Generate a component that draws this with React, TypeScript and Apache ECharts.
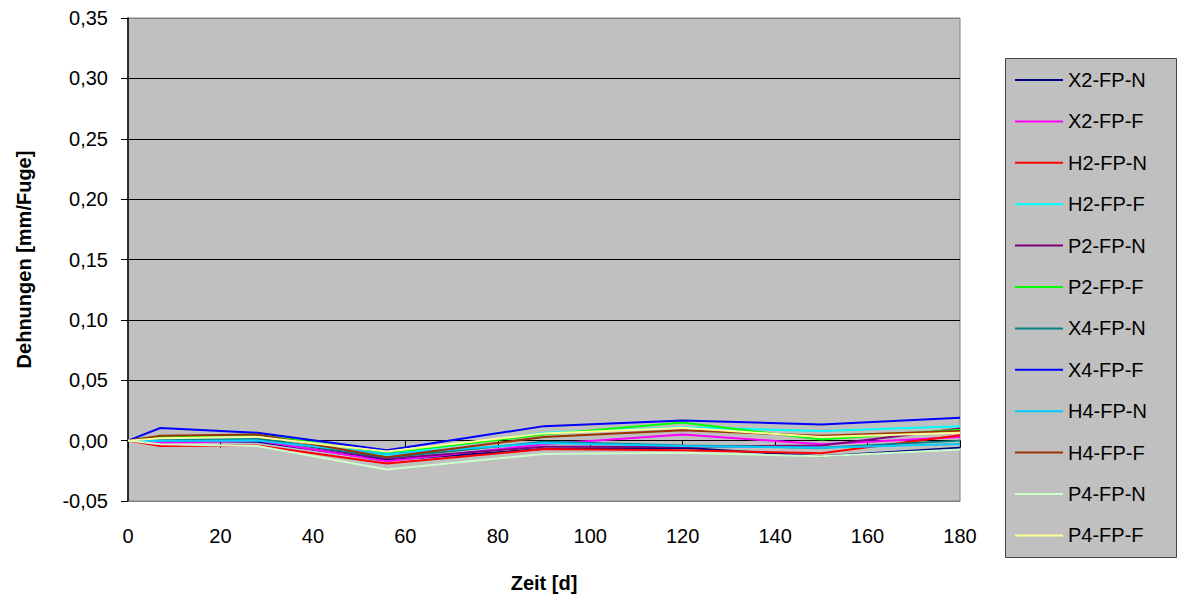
import React, { useEffect, useRef } from "react";
import * as echarts from "echarts";

const days = [0, 7, 28, 56, 90, 120, 150, 180];
const seriesNames = [
  "X2-FP-N", "X2-FP-F", "H2-FP-N", "H2-FP-F", "P2-FP-N", "P2-FP-F",
  "X4-FP-N", "X4-FP-F", "H4-FP-N", "H4-FP-F", "P4-FP-N", "P4-FP-F",
];
const seriesColors = [
  "#000080", "#FF00FF", "#FF0000", "#00FFFF", "#800080", "#00FF00",
  "#008080", "#0000FF", "#00CCFF", "#993300", "#CCFFCC", "#FFFF99",
];
const x2fpN = [0, 0.0, -0.001, -0.016, -0.007, -0.006, -0.013, -0.006];
const x2fpF = [0, -0.002, 0.0, -0.017, -0.003, 0.005, -0.003, 0.003];
const h2fpN = [0, -0.0045, -0.004, -0.019, -0.007, -0.008, -0.0105, 0.0045];
const h2fpF = [0, 0.0, 0.001, -0.012, 0.0065, 0.011, 0.008, 0.012];
const p2fpN = [0, 0.002, 0.002, -0.015, -0.005, -0.005, -0.004, 0.01];
const p2fpF = [0, 0.003, 0.005, -0.01, 0.005, 0.015, 0.001, 0.009];
const x4fpN = [0, 0.001, 0.002, -0.014, -0.001, -0.004, -0.006, 0.0];
const x4fpF = [0, 0.0105, 0.0065, -0.008, 0.012, 0.0167, 0.0134, 0.019];
const h4fpN = [0, 0.0, 0.0, -0.011, -0.002, -0.0045, -0.006, -0.0027];
const h4fpF = [0, 0.004, 0.005, -0.0137, 0.003, 0.0085, 0.004, 0.008];
const p4fpN = [0, -0.003, -0.0045, -0.024, -0.011, -0.01, -0.013, -0.0073];
const p4fpF = [0, 0.002, 0.003, -0.009, 0.006, 0.0106, 0.003, 0.0065];
const seriesValues = [x2fpN, x2fpF, h2fpN, h2fpF, p2fpN, p2fpF, x4fpN, x4fpF, h4fpN, h4fpF, p4fpN, p4fpF];

const yMin = -0.05;
const yMax = 0.35;
const yStep = 0.05;
const xMin = 0;
const xMax = 180;
const xStep = 20;

const FONT = "'Liberation Sans', Arial, sans-serif";
const FS = 20;

export default function App() {
  const ref = useRef<HTMLDivElement>(null);
  useEffect(() => {
    document.body.style.margin = "0";
    const chart = echarts.init(ref.current!, null, { renderer: "svg" });
    const gridColors = ["#808080", "#000", "#000", "#000", "#000", "#000", "#000", "#000", "#808080"];
    chart.setOption({
      animation: false,
      backgroundColor: "#ffffff",
      textStyle: { fontFamily: FONT, color: "#000" },
      grid: {
        left: 128,
        top: 18,
        right: 219,
        bottom: 99,
        show: true,
        backgroundColor: "#C0C0C0",
        borderColor: "#808080",
        borderWidth: 1,
      },
      xAxis: [
        {
          type: "value",
          min: xMin,
          max: xMax,
          interval: xStep,
          position: "bottom",
          axisLine: { show: true, onZero: false, lineStyle: { color: "#808080", width: 1 } },
          axisTick: { show: false },
          splitLine: { show: false },
          axisLabel: { fontSize: FS, color: "#000", fontFamily: FONT, margin: 25 },
          name: "Zeit [d]",
          nameLocation: "middle",
          nameGap: 72,
          nameTextStyle: { fontSize: FS, fontWeight: "bold", color: "#000", fontFamily: FONT },
        },
        {
          type: "value",
          min: xMin,
          max: xMax,
          interval: xStep,
          position: "bottom",
          axisLine: { show: true, onZero: true, lineStyle: { color: "#000", width: 1 } },
          axisTick: { show: true, inside: false, length: 7, lineStyle: { color: "#000" } },
          axisLabel: { show: false },
          splitLine: { show: false },
        },
      ],
      yAxis: {
        type: "value",
        min: yMin,
        max: yMax,
        interval: yStep,
        axisLine: { show: true, lineStyle: { color: "#000", width: 1.5 } },
        axisTick: { show: true, length: 7, lineStyle: { color: "#000" } },
        splitLine: { show: true, lineStyle: { color: gridColors, width: 1 } },
        axisLabel: {
          fontSize: FS,
          color: "#000",
          fontFamily: FONT,
          margin: 20,
          formatter: (v: number) => v.toFixed(2).replace(".", ","),
        },
        name: "Dehnungen [mm/Fuge]",
        nameLocation: "middle",
        nameGap: 94,
        nameTextStyle: { fontSize: FS, fontWeight: "bold", color: "#000", fontFamily: FONT },
      },
      graphic: [
        {
          type: "rect",
          z: 0,
          shape: { x: 1005.5, y: 58.5, width: 171, height: 499 },
          style: { fill: "#C0C0C0", stroke: "#444", lineWidth: 1 },
        },
      ],
      legend: {
        orient: "vertical",
        left: 1005,
        top: 58,
        padding: [12, 10, 11, 10],
        icon: "rect",
        itemWidth: 48,
        itemHeight: 2,
        itemGap: 21.4,
        z: 5,
        textStyle: { fontSize: FS, color: "#000", fontFamily: FONT, lineHeight: 20 },
        data: seriesNames,
      },
      series: seriesNames.map((name, i) => ({
        name,
        type: "line",
        xAxisIndex: 0,
        symbol: "none",
        color: seriesColors[i],
        itemStyle: { color: seriesColors[i] },
        lineStyle: { width: 2, color: seriesColors[i] },
        data: days.map((d, j) => [d, seriesValues[i][j]]),
      })),
    });
    return () => chart.dispose();
  }, []);
  return <div ref={ref} style={{ position: "fixed", left: 0, top: 0, width: 1179, height: 600 }} />;
}
